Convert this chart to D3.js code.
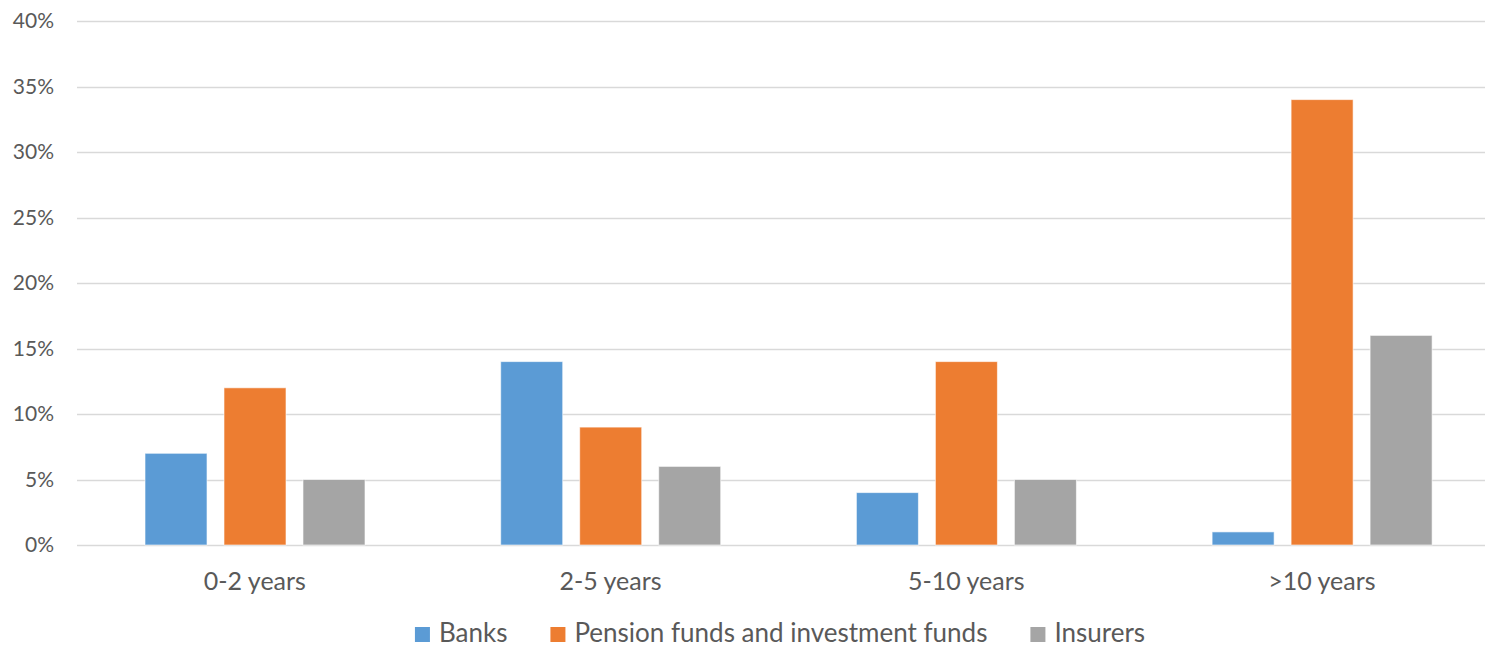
<!DOCTYPE html>
<html>
<head>
<meta charset="utf-8">
<script src="https://cdn.jsdelivr.net/npm/d3@7"></script>
<style>
  html, body { margin: 0; padding: 0; background: #fff; }
  svg { display: block; font-family: Lato, "Open Sans", sans-serif; }
</style>
</head>
<body>
<svg id="chart" width="1485" height="648"></svg>
<script>
const categories = ["0-2 years", "2-5 years", "5-10 years", ">10 years"];
const seriesNames = ["Banks", "Pension funds and investment funds", "Insurers"];
const banks = [7, 14, 4, 1];
const pensionFunds = [12, 9, 14, 34];
const insurers = [5, 6, 5, 16];
const yTicks = [0, 5, 10, 15, 20, 25, 30, 35, 40];
const colors = ["#5b9bd5", "#ed7d31", "#a5a5a5"];

const seriesValues = [banks, pensionFunds, insurers];

const svg = d3.select("#chart");
const width = 1485, height = 648;
const plotLeft = 77, plotBottom = 545, plotTop = 21;

// the category band runs slightly past the right edge of the canvas
const x = d3.scaleBand()
  .domain(categories)
  .range([plotLeft, plotLeft + 4 * 355.7])
  .paddingInner(0).paddingOuter(0);

const xInner = d3.scaleBand()
  .domain(seriesNames)
  .range([68, 288])
  .paddingInner(0.215);

const y = d3.scaleLinear()
  .domain([0, 40])
  .range([plotBottom, plotTop]);

// horizontal gridlines
svg.append("g")
  .selectAll("line")
  .data(yTicks)
  .join("line")
  .attr("x1", plotLeft)
  .attr("x2", width)
  .attr("y1", d => Math.round(y(d)) + 0.5)
  .attr("y2", d => Math.round(y(d)) + 0.5)
  .attr("stroke", "#d9d9d9")
  .attr("stroke-width", 1.4);

// y tick labels
svg.append("g")
  .selectAll("text")
  .data(yTicks)
  .join("text")
  .attr("x", 54)
  .attr("y", d => y(d))
  .attr("dy", "0.35em")
  .attr("text-anchor", "end")
  .attr("fill", "#595959")
  .attr("font-size", 21)
  .text(d => d + "%");

// bars
const groups = svg.append("g")
  .selectAll("g")
  .data(categories)
  .join("g")
  .attr("transform", d => `translate(${x(d)},0)`);

groups.selectAll("rect")
  .data((c, i) => seriesNames.map((s, j) => ({ series: s, value: seriesValues[j][i], idx: j })))
  .join("rect")
  .attr("x", d => xInner(d.series))
  .attr("width", xInner.bandwidth())
  .attr("y", d => y(d.value))
  .attr("height", d => y(0) - y(d.value))
  .attr("fill", d => colors[d.idx])
  .attr("stroke", "#ffffff")
  .attr("stroke-opacity", 0.6)
  .attr("stroke-width", 1);

// category labels
svg.append("g")
  .selectAll("text")
  .data(categories)
  .join("text")
  .attr("x", d => x(d) + x.bandwidth() / 2)
  .attr("y", 590)
  .attr("text-anchor", "middle")
  .attr("fill", "#595959")
  .attr("font-size", 25)
  .text(d => d);

// legend
const legend = svg.append("g");
const items = legend.selectAll("g")
  .data(seriesNames)
  .join("g");
items.append("rect")
  .attr("width", 15).attr("height", 15)
  .attr("y", 627)
  .attr("fill", (d, i) => colors[i]);
items.append("text")
  .attr("x", 24)
  .attr("y", 642)
  .attr("fill", "#595959")
  .attr("font-size", 26)
  .text(d => d);

const gap = 43;
const widths = [];
items.each(function () {
  widths.push(24 + d3.select(this).select("text").node().getComputedTextLength());
});
const total = d3.sum(widths) + gap * (widths.length - 1);
const start = 780 - total / 2;
let offset = 0;
items.attr("transform", (d, i) => {
  const t = `translate(${start + offset},0)`;
  offset += widths[i] + gap;
  return t;
});
</script>
</body>
</html>
